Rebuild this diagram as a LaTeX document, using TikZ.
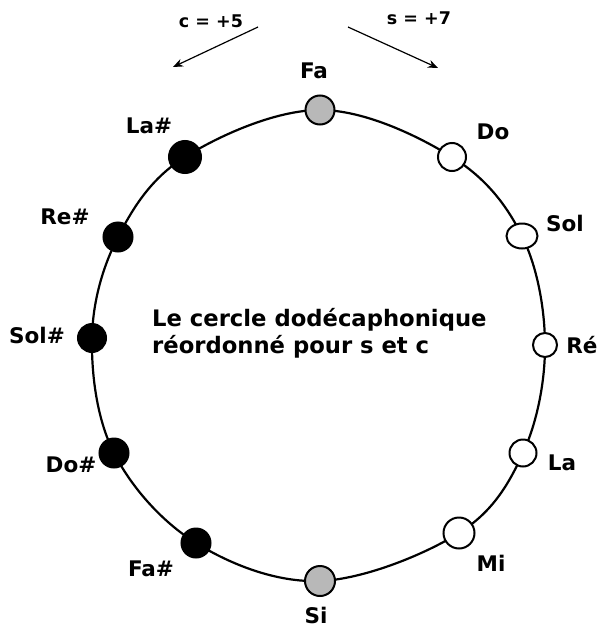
\documentclass[tikz,border=0pt]{standalone}
\usepackage{fontspec}
\setmainfont{DejaVu Sans}
\usetikzlibrary{arrows.meta,shapes.geometric}
\begin{document}
\begin{tikzpicture}[x=1pt,y=-1pt,
  curve/.style={line width=2.2pt},
  dotbase/.style={circle,draw=black,line width=2pt,inner sep=0pt,minimum size=28pt},
  blackdot/.style={dotbase,fill=black},
  whitedot/.style={dotbase,fill=white},
  greydot/.style={dotbase,fill=black!28},
  lab/.style={font=\fontsize{21.5}{24}\selectfont\bfseries,inner sep=0pt},
  small/.style={font=\fontsize{17.5}{20}\selectfont\bfseries,inner sep=0pt},
  centertext/.style={font=\fontsize{22.7}{27}\selectfont\bfseries,align=left,inner sep=0pt},
  arr/.style={line width=1.2pt,-{Stealth[length=10pt,width=8pt]}}
]
\useasboundingbox (0,0) rectangle (598,632);

% the twelve-tone circle
\draw[curve] plot[smooth cycle,tension=0.6] coordinates {
  (320,110) (452,157) (522,236) (545,345) (523,453) (459,533)
  (320,581) (196,543) (114,453) (92,338) (118,237) (185,157)};

% dots
\node[greydot,minimum size=29pt] (fa) at (320,110) {};
\node[whitedot,minimum size=28pt] (do) at (452,157) {};
\node[whitedot,ellipse,minimum width=31pt,minimum height=25pt] (sol) at (522,236) {};
\node[whitedot,minimum size=24pt] (re) at (545,345) {};
\node[whitedot,minimum size=27pt] (la) at (523,453) {};
\node[whitedot,minimum size=31pt] (mi) at (459,533) {};
\node[greydot,minimum size=30pt] (si) at (320,581) {};
\node[blackdot,minimum size=29pt] (fad) at (196,543) {};
\node[blackdot,minimum size=29pt] (dod) at (114,453) {};
\node[blackdot,minimum size=28pt] (sold) at (92,338) {};
\node[blackdot,minimum size=29pt] (red) at (118,237) {};
\node[blackdot,minimum size=32pt] (lad) at (185,157) {};

% labels
\node[lab] (lfa) at (314,71) {Fa};
\node[lab] (ldo) at (493,132) {Do};
\node[lab] (lsol) at (565,223) {Sol};
\node[lab] (lre) at (582,345) {Ré};
\node[lab] (lla) at (562,463) {La};
\node[lab] (lmi) at (491,563) {Mi};
\node[lab] (lsi) at (316,615) {Si};
\node[lab] (lfad) at (151,569) {Fa\#};
\node[lab] (ldod) at (71,465) {Do\#};
\node[lab] (lsold) at (37,335) {Sol\#};
\node[lab] (lred) at (65,217) {Re\#};
\node[lab] (llad) at (149,126) {La\#};

% centre text
\node[centertext,anchor=west] (title) at (152,333)
  {Le cercle dodécaphonique\\réordonné pour s et c};

% arrows
\node[small] (clab) at (211,21) {c = +5};
\node[small] (slab) at (419,18) {s = +7};
\coordinate (cs) at (258,27);
\coordinate (ce) at (173,67);
\coordinate (ss) at (348,27);
\coordinate (se) at (438,68);
\draw[arr] (cs) -- (ce);
\draw[arr] (ss) -- (se);
\end{tikzpicture}
\end{document}
